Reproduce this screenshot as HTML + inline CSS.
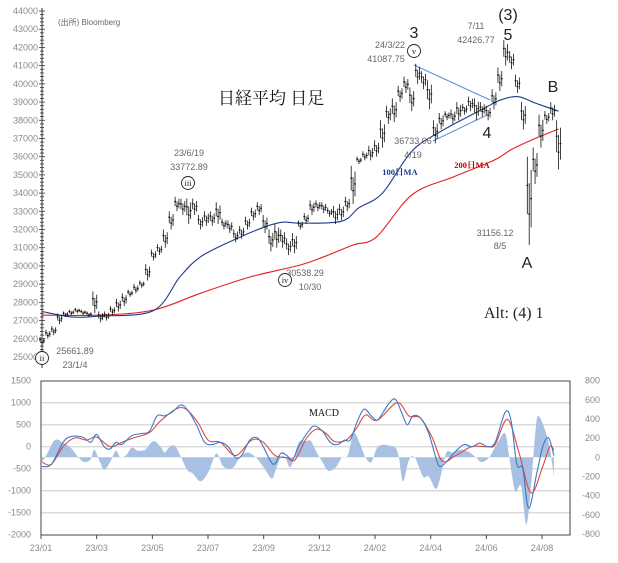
<!DOCTYPE html>
<html><head><meta charset="utf-8">
<style>
html,body{margin:0;padding:0;background:#fff;}
svg{display:block;font-family:"Liberation Sans","Noto Sans CJK JP",sans-serif;}
.tk{font-size:9px;fill:#8a8a8a;}
.ann{font-size:9px;fill:#666;}
</style></head>
<body>
<svg id="c" width="618" height="563" viewBox="0 0 618 563"></svg>
<script>
// ---- price data (weekly high / low) ----
const weekHigh=[26100,26500,26700,27400,27500,27600,27700,27600,27500,28600,27500,27500,27800,28200,28500,28700,29000,29200,30100,30900,31200,32000,33000,33800,33700,33700,33700,32800,33000,33000,33500,32600,32500,32000,32200,32700,33200,33500,32800,32000,32300,32000,31500,31800,32500,32900,33600,33600,33500,33200,33300,33400,33800,35500,36000,36300,36600,36900,38000,38800,39200,39900,40400,39800,41100,40700,40200,38000,38400,38500,38600,39000,38900,39300,39200,39000,38800,39700,40900,42400,41800,40500,39000,36000,36500,38300,38500,39000,38000];
const weekLow=[25660,26000,26200,26800,27200,27300,27400,27300,27200,27400,26900,27000,27300,27500,27800,28300,28500,28800,29200,30300,30600,31000,32000,33000,32800,32300,32800,32000,32200,32200,32300,32000,31800,31300,31500,32000,32500,32800,31800,30800,31000,31000,30600,30700,32000,32300,32800,33000,32900,32700,32300,32500,33000,33400,35600,35800,35800,36000,36500,37800,37900,39000,39500,38500,40000,39700,38600,36730,37500,38000,37800,38000,38300,38500,38000,38200,38000,38600,39600,41000,40800,39500,37500,31150,34500,36500,37800,38000,35300];
// 100-day and 200-day moving averages (knots: week, value)
const ma100Weeks=[0,5,10,19,23.5,27,32.5,38,41,44,51,54,58,63,68,75,78,81,84,88];
const ma100Vals=[27500,27200,27250,27550,29400,30500,31400,32150,32400,32350,32450,33200,34000,36300,37400,38600,39100,39300,38950,38500];
const ma200Weeks=[0,10,19,27,35.5,44,48,53,57,63,70,77,80,84,88];
const ma200Vals=[27300,27300,27580,28500,29400,30050,30500,31150,31600,33900,34880,35800,36400,37000,37520];
const priceTicks=[25000,26000,27000,28000,29000,30000,31000,32000,33000,34000,35000,36000,37000,38000,39000,40000,41000,42000,43000,44000];
// ---- MACD data ----
const macdWeeks=[0,1.6,3.6,4.9,6.9,8.3,9.3,10.6,11.6,12.6,13.6,15.3,17.0,18.3,19.6,20.9,22.3,23.7,25.0,26.3,27.7,29.0,30.4,31.7,33.0,34.0,35.4,36.7,37.7,39.4,40.7,41.7,42.7,43.7,45.4,46.4,47.8,49.1,50.4,51.5,52.5,53.5,54.8,56.1,57.1,58.2,59.2,60.2,61.2,62.2,63.2,64.5,65.9,67.2,67.9,69.2,70.5,71.9,73.2,74.6,75.9,77.2,78.9,79.9,80.9,81.9,82.9,84.3,85.3,86.3,87.2];
const macdVals=[-450,-400,100,230,220,100,280,0,-50,100,50,250,300,350,700,700,800,950,800,500,100,50,100,0,-250,-200,150,200,0,-400,-150,-200,-300,0,350,470,350,100,50,150,150,500,850,700,600,800,1000,1080,800,500,700,650,300,-300,-450,-300,-100,50,0,80,0,100,780,600,-400,-500,-1400,-600,0,200,-200];
const sigWeeks=[0,1.6,3.6,5.6,7.6,9.3,11.6,13.6,15.6,18.3,20.3,23.7,26.3,28.3,30.4,33.0,35.7,37.7,39.7,41.7,43.1,45.1,46.8,48.4,49.8,51.8,53.5,55.1,57.1,60.5,62.5,64.5,66.5,68.2,70.5,73.2,75.9,77.2,79.3,81.3,83.3,85.3,86.5,87.2];
const sigVals=[-350,-400,0,200,150,220,0,100,200,320,600,890,600,150,100,-200,150,100,-200,-250,-300,200,400,300,120,150,400,720,600,1000,700,650,200,-330,-200,0,0,50,620,-150,-1050,-450,0,-80];
const histWeeks=[0,0.9,2.2,3.6,4.9,6.2,7.2,8.3,8.9,9.9,10.6,11.6,12.6,13.3,14.3,15.3,16.3,17.6,19.0,20.3,20.9,21.6,22.6,23.7,24.7,25.7,27.0,28.3,29.7,30.7,31.7,32.7,33.7,35.0,36.4,37.7,39.1,39.7,40.7,41.4,42.4,43.7,45.1,45.8,46.8,47.8,48.8,50.1,51.1,52.1,53.1,54.1,55.1,56.1,57.1,58.2,59.2,60.2,60.8,61.5,62.5,63.5,64.9,65.9,67.1,67.9,68.9,69.9,71.2,72.6,73.9,74.9,76.2,77.6,78.9,79.6,80.6,81.6,82.5,83.3,84.1,84.6,85.6,86.5,87.2];
const histVals=[-50,40,180,150,100,0,-50,-20,80,-50,-130,-50,70,0,20,100,70,80,170,100,50,100,120,0,-130,-170,-250,-160,40,-80,-120,-100,0,50,0,-100,-220,-150,0,0,-100,150,170,170,50,-50,-140,-100,0,20,250,150,0,-50,100,130,120,100,0,-250,-30,0,-200,-200,-330,-200,50,50,80,60,0,-50,0,150,250,0,-350,-300,-700,-300,300,430,300,100,-200];
const macdLeftTicks=[1500,1000,500,0,-500,-1000,-1500,-2000];
const macdRightTicks=[800,600,400,200,0,-200,-400,-600,-800];
const dateLabels=["23/01","23/03","23/05","23/07","23/09","23/12","24/02","24/04","24/06","24/08"];

const svg=document.getElementById('c');
const NS='http://www.w3.org/2000/svg';
function mk(tag,attrs,parent){const e=document.createElementNS(NS,tag);for(const k in attrs)e.setAttribute(k,attrs[k]);(parent||svg).appendChild(e);return e;}
// axis functions
const xW=w=>42+w*5.87;
const yP=v=>11+(44000-v)*0.01821;
const yL=v=>446.7-v*0.044;
const yR=v=>457.3-v*0.0959;

// smooth path (Catmull-Rom) through knots
function smoothPath(ws,vs,yf){
 const p=ws.map((w,i)=>[xW(w),yf(vs[i])]);
 let d='M'+p[0][0].toFixed(1)+' '+p[0][1].toFixed(1);
 for(let i=0;i<p.length-1;i++){const p0=p[Math.max(0,i-1)],p1=p[i],p2=p[i+1],p3=p[Math.min(p.length-1,i+2)];
  const c1=[p1[0]+(p2[0]-p0[0])/6,p1[1]+(p2[1]-p0[1])/6],c2=[p2[0]-(p3[0]-p1[0])/6,p2[1]-(p3[1]-p1[1])/6];
  d+=' C'+c1[0].toFixed(1)+' '+c1[1].toFixed(1)+' '+c2[0].toFixed(1)+' '+c2[1].toFixed(1)+' '+p2[0].toFixed(1)+' '+p2[1].toFixed(1);}
 return d;}

// ---- top price axis ----
const pAxis=mk('g',{});


mk('line',{x1:42,y1:8,x2:42,y2:368,stroke:'#333','stroke-width':1},pAxis);
for(let v=25000;v<=44000;v+=200){const y=yP(v);const major=v%1000===0;mk('line',{x1:major?39:40,y1:y,x2:major?45:44,y2:y,stroke:'#333','stroke-width':0.8},pAxis);}
priceTicks.forEach(v=>{const t=mk('text',{x:38,y:yP(v)+3,'text-anchor':'end',class:'tk'},pAxis);t.textContent=v;

});

// moving averages
const m200=mk('path',{d:smoothPath(ma200Weeks,ma200Vals,yP),fill:'none',stroke:'#e02020','stroke-width':1.1});


const m100=mk('path',{d:smoothPath(ma100Weeks,ma100Vals,yP),fill:'none',stroke:'#1f3a8a','stroke-width':1.1});



// trend lines (triangle)
const tl1=mk('line',{x1:414,y1:65,x2:490,y2:100,stroke:'#5b8fd6','stroke-width':1});


const tl2=mk('line',{x1:433,y1:141,x2:487,y2:115,stroke:'#5b8fd6','stroke-width':1});



// candles (thin sticks)
const cg=mk('g',{});


const frac=[[0.35,1.0],[0.0,0.7],[0.2,0.85]];
weekHigh.forEach((h,i)=>{const l=weekLow[i];const x=xW(i);
 const g=mk('g',{},cg);
 
 
 frac.forEach((f,k)=>{const xx=x+(k-1)*1.9;const lo=l+(h-l)*f[0],hi=l+(h-l)*f[1];
  mk('line',{x1:xx,y1:yP(hi),x2:xx,y2:yP(lo),stroke:'#111','stroke-width':0.8},g);
  const m=yP(lo+(hi-lo)*0.5);mk('line',{x1:xx-0.9,y1:m,x2:xx+0.9,y2:m,stroke:'#111','stroke-width':1.2},g);});
});

// annotations
function txt(x,y,s,cls,name,extra){const t=mk('text',Object.assign({x:x,y:y,class:cls},extra||{}));t.textContent=s;

return t;}
const BIG='font-size:16px;fill:#222;';
function circ(x,y,s,name){const g=mk('g',{});


mk('circle',{cx:x,cy:y,r:6.5,fill:'#fff',stroke:'#222','stroke-width':0.9},g);const t=mk('text',{x:x,y:y+3,'text-anchor':'middle',style:'font-size:8.5px;fill:#222;font-family:"Liberation Serif",serif'},g);t.textContent=s;}
txt(58,25,'(出所) Bloomberg','ann','source-note',{style:'font-size:8px'});
txt(218,104,'日経平均 日足','','chart-title',{style:'font-family:"Liberation Serif","Noto Serif CJK JP",serif;font-size:17px;fill:#111'});
txt(189,156,'23/6/19','ann','label-2023-06-19',{'text-anchor':'middle'});
txt(189,170,'33772.89','ann','label-33772',{'text-anchor':'middle'});
circ(188,183,'iii','wave-iii');
txt(390,48,'24/3/22','ann','label-2024-03-22',{'text-anchor':'middle'});
txt(386,62,'41087.75','ann','label-41087',{'text-anchor':'middle'});
circ(414,51,'v','wave-v');
txt(414,38,'3','','wave-3',{'text-anchor':'middle',style:BIG});
txt(476,29,'7/11','ann','label-2024-07-11',{'text-anchor':'middle'});
txt(476,43,'42426.77','ann','label-42426',{'text-anchor':'middle'});
txt(508,20,'(3)','','wave-3-paren',{'text-anchor':'middle',style:BIG});
txt(508,40,'5','','wave-5',{'text-anchor':'middle',style:BIG});
txt(413,144,'36733.06','ann','label-36733',{'text-anchor':'middle'});
txt(413,158,'4/19','ann','label-2024-04-19',{'text-anchor':'middle'});
txt(487,138,'4','','wave-4',{'text-anchor':'middle',style:BIG});
txt(553,92,'B','','wave-b',{'text-anchor':'middle',style:BIG});
txt(400,175,'100日MA','','ma100-label',{'text-anchor':'middle',style:'font-family:"Liberation Serif","Noto Serif CJK JP",serif;font-weight:bold;font-size:8.5px;fill:#1f3a8a'});
txt(472,168,'200日MA','','ma200-label',{'text-anchor':'middle',style:'font-family:"Liberation Serif","Noto Serif CJK JP",serif;font-weight:bold;font-size:8.5px;fill:#c00000'});
txt(495,236,'31156.12','ann','label-31156',{'text-anchor':'middle'});
txt(500,249,'8/5','ann','label-2024-08-05',{'text-anchor':'middle'});
txt(527,268,'A','','wave-a',{'text-anchor':'middle',style:BIG});
txt(484,318,'Alt:  (4)  1','','alt-count',{style:'font-family:"Liberation Serif",serif;font-size:16px;fill:#222'});
txt(305,276,'30538.29','ann','label-30538',{'text-anchor':'middle'});
txt(310,290,'10/30','ann','label-2023-10-30',{'text-anchor':'middle'});
circ(285,280,'iv','wave-iv');
txt(75,354,'25661.89','ann','label-25661',{'text-anchor':'middle'});
txt(75,368,'23/1/4','ann','label-2023-01-04',{'text-anchor':'middle'});
circ(42,358,'ii','wave-ii');

// ---- MACD panel ----
const mg=mk('g',{});


macdLeftTicks.forEach(v=>{const y=yL(v);if(v>-2000&&v<1500)mk('line',{x1:41,y1:y,x2:570,y2:y,stroke:'#d9d9d9','stroke-width':1.4},mg);
 const t=mk('text',{x:31,y:y+3,'text-anchor':'end',class:'tk'},mg);t.textContent=v;
 
 });
macdRightTicks.forEach(v=>{const t=mk('text',{x:600,y:yR(v)+3,'text-anchor':'end',class:'tk'},mg);t.textContent=v;
 
 });
// histogram
const hp=smoothPath(histWeeks,histVals,yR);
const hd='M'+xW(histWeeks[0]).toFixed(1)+' '+yR(0)+' L'+hp.slice(1)+' L'+xW(histWeeks[histWeeks.length-1]).toFixed(1)+' '+yR(0)+' Z';
const hist=mk('path',{d:hd,fill:'#a8c0e2',stroke:'none'},mg);


const sig=mk('path',{d:smoothPath(sigWeeks,sigVals,yL),fill:'none',stroke:'#e04a3a','stroke-width':1.1},mg);


const mac=mk('path',{d:smoothPath(macdWeeks,macdVals,yL),fill:'none',stroke:'#3d78c9','stroke-width':1.1},mg);


const box=mk('rect',{x:41,y:381,width:529,height:154,fill:'none',stroke:'#444','stroke-width':1},mg);


dateLabels.forEach((s,i)=>{const x=41+i*55.67;mk('line',{x1:x,y1:535,x2:x,y2:539,stroke:'#444'},mg);
 const t=mk('text',{x:x,y:551,'text-anchor':'middle',class:'tk'},mg);t.textContent=s;
 
 });
const mt=mk('text',{x:324,y:416,'text-anchor':'middle',style:'font-size:10px;font-family:"Liberation Serif",serif;fill:#111'},mg);mt.textContent='MACD';


</script>
</body></html>
